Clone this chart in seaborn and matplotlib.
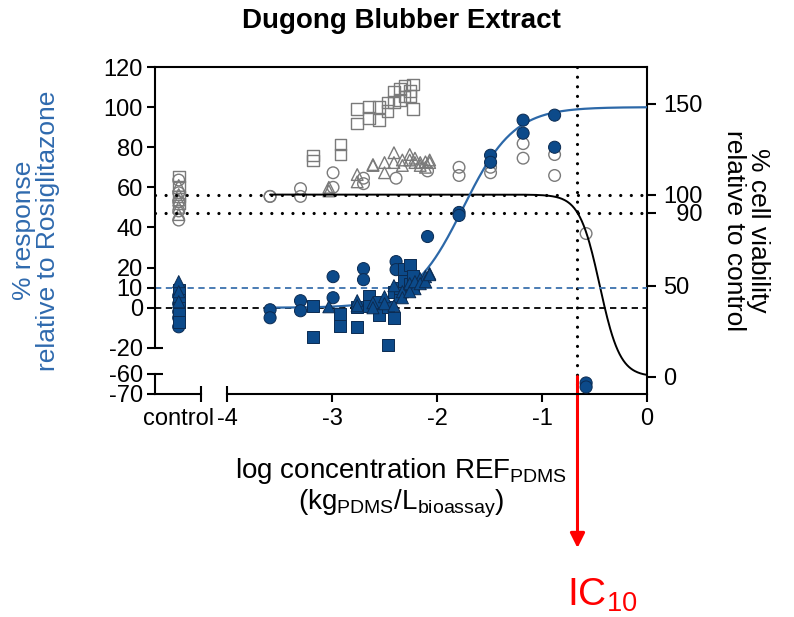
import numpy as np
import pandas as pd
import matplotlib
matplotlib.use("Agg")
import matplotlib.pyplot as plt
import seaborn as sns

# ---------------------------------------------------------------------------
# Data: log concentration REF_PDMS and measured responses per replicate
# ---------------------------------------------------------------------------
nan = np.nan

# replicate 1 (circles)
conc_rep1 = [-3.59, -3.30, -2.99, -2.70, -2.39, -2.09, -1.79, -1.49, -1.18, -0.88, -0.58]
resp_rep1_a = [-1, 3.5, 15.5, 19.5, 23, 35.5, 47.5, 76, 93.5, 96, -64.5]
resp_rep1_b = [-5, -1.5, 5, 14, 19, nan, 46, 72.5, 87, 80, -66.5]
viab_rep1_a = [99, 103.3, 112, 109, 109, 113, 115, 115, 128, 122, 78.6]
viab_rep1_b = [99, 99, 104, 106, nan, nan, 110.5, 112, 120, 110.5, nan]

# replicate 2 (squares)
conc_rep2 = [-3.18, -2.92, -2.76, -2.65, -2.55, -2.47, -2.41, -2.35, -2.31, -2.26, -2.23]
resp_rep2_a = [1, -3, 0.5, 6, -3.5, 0.5, 8, 6, 19.5, 21.5, 10.5]
resp_rep2_b = [-14.5, -9, -9.5, 1, 3, -18.5, -5, 10, 13.5, 12, 16]
viab_rep2_a = [121.4, 127.5, 147, 148, 148, 150.5, 156.6, 152, 160, 154, 160.4]
viab_rep2_b = [118.7, 122, 139, 142, 141, 146, 151, 158, 153.8, 157, 147]

# replicate 3 (triangles)
conc_rep3 = [-3.03, -2.76, -2.61, -2.50, -2.41, -2.33, -2.26, -2.21, -2.16, -2.11, -2.07]
resp_rep3_a = [0.5, 3.5, 2.5, 5.5, 11, 8, 12, 9.5, 14.5, 15.5, 17]
resp_rep3_b = [nan, 1, 0, 2, 1, 5, 8, 13, 12, 13, 16.5]
viab_rep3_a = [104, 111, 116.5, 117.6, 123, 119, 122, 117.6, 117.6, 118, 119]
viab_rep3_b = [102, 107, 116, 112, 117.6, 116, 119, 120, 116, 115, 117.6]

# solvent controls
ctrl_resp_rep1 = [6, 2, -2, -5, -9.5]
ctrl_resp_rep2 = [9, 4, 0, -3, -7]
ctrl_resp_rep3 = [13, 8, 3]
ctrl_viab_rep1 = [108, 101, 96, 91, 86]
ctrl_viab_rep2 = [110, 104, 99, 95]
ctrl_viab_rep3 = [105, 100, 97, 93, 89]

# Hill fits
RESP_BOTTOM, RESP_TOP, RESP_LOGEC50, RESP_HILL = 0.0, 100.0, -1.75, 1.8
VIAB_TOP, VIAB_BOTTOM, VIAB_LOGIC50, VIAB_HILL = 100.0, 0.0, -0.45, 4.5
CURVE_START, CURVE_END = -3.59, 0.0

# tick labels
left_ticks = [-70, 0, 10, 20, 40, 60, 80, 100, 120]
left_break_ticks = [-60, -20]
right_ticks = [0, 50, 90, 100, 150]
x_ticks = [-3, -2, -1, 0]

# ---------------------------------------------------------------------------
# Layout / style constants
# ---------------------------------------------------------------------------
CONTROL_X = -4.46          # where the control column sits on the x axis
X_MIN, CTRL_END, X_BREAK = -4.686, -4.248, -4.0
BLUE_FILL = "#0C4A8A"
BLUE_EDGE = "#0B2B52"
CURVE_BLUE = "#2C68A8"
DASH_BLUE = "#3C72AE"
LABEL_BLUE = "#2F6AAE"
OPEN_EDGE = "#7A7A7A"
SPINE_LW = 1.5
TICK_LEN = 5.8
TICK_FS = 17
MARKERS = {"1": "o", "2": "s", "3": "^"}


def long_frame(conc, a, b, rep):
    x = list(conc) + list(conc)
    v = list(a) + list(b)
    return pd.DataFrame({"x": x, "value": v, "rep": rep})


resp_df = pd.concat([
    long_frame(conc_rep1, resp_rep1_a, resp_rep1_b, "1"),
    long_frame(conc_rep2, resp_rep2_a, resp_rep2_b, "2"),
    long_frame(conc_rep3, resp_rep3_a, resp_rep3_b, "3"),
    pd.DataFrame({"x": CONTROL_X, "value": ctrl_resp_rep1, "rep": "1"}),
    pd.DataFrame({"x": CONTROL_X, "value": ctrl_resp_rep2, "rep": "2"}),
    pd.DataFrame({"x": CONTROL_X, "value": ctrl_resp_rep3, "rep": "3"}),
]).dropna()

viab_df = pd.concat([
    long_frame(conc_rep1, viab_rep1_a, viab_rep1_b, "1"),
    long_frame(conc_rep2, viab_rep2_a, viab_rep2_b, "2"),
    long_frame(conc_rep3, viab_rep3_a, viab_rep3_b, "3"),
    pd.DataFrame({"x": CONTROL_X, "value": ctrl_viab_rep1, "rep": "1"}),
    pd.DataFrame({"x": CONTROL_X, "value": ctrl_viab_rep2, "rep": "2"}),
    pd.DataFrame({"x": CONTROL_X, "value": ctrl_viab_rep3, "rep": "3"}),
]).dropna()

xs = np.linspace(CURVE_START, CURVE_END, 400)
resp_curve = pd.DataFrame({
    "x": xs,
    "y": RESP_BOTTOM + (RESP_TOP - RESP_BOTTOM) / (1 + 10 ** ((RESP_LOGEC50 - xs) * RESP_HILL)),
})
viab_curve = pd.DataFrame({
    "x": xs,
    "y": VIAB_BOTTOM + (VIAB_TOP - VIAB_BOTTOM) / (1 + 10 ** ((xs - VIAB_LOGIC50) * VIAB_HILL)),
})
# concentration giving 10 % loss of viability
log_ic10 = VIAB_LOGIC50 + np.log10(1 / 9) / VIAB_HILL


# broken left axis: -70..-60 squeezed below -20
def fwd(y):
    y = np.asarray(y, dtype=float)
    return np.where(y >= -20, y, np.where(y <= -60, y + 27, -20 + (y + 20) * 13 / 40))


def inv(t):
    t = np.asarray(t, dtype=float)
    return np.where(t >= -20, t, np.where(t <= -33, t - 27, -20 + (t + 20) * 40 / 13))


# ---------------------------------------------------------------------------
sns.set_style("ticks")
plt.rcParams["font.family"] = ["Liberation Sans", "DejaVu Sans"]
plt.rcParams["mathtext.fontset"] = "custom"
plt.rcParams["mathtext.rm"] = "Liberation Sans"
plt.rcParams["mathtext.it"] = "Liberation Sans:italic"
plt.rcParams["mathtext.bf"] = "Liberation Sans:bold"
for key in ("text.color", "axes.labelcolor", "xtick.color", "ytick.color", "axes.edgecolor"):
    plt.rcParams[key] = "black"

fig = plt.figure(figsize=(7.94, 6.17), dpi=100)
fig.patch.set_facecolor("white")
ax = fig.add_axes([155 / 794, 1 - 394 / 617, (647 - 155) / 794, (394 - 67) / 617])
ax2 = ax.twinx()
ax.set_zorder(ax2.get_zorder() + 1)
ax.patch.set_visible(False)

ax.set_yscale("function", functions=(fwd, inv))
ax.set_ylim(-70, 120)
ax.set_xlim(X_MIN, 0)
ax2.set_ylim(-9.56, 170.1)

# --- cell viability (right axis) ---
dot = (0, (0.01, 3.3))
ax2.axhline(100, color="k", lw=2.3, ls=dot, dash_capstyle="round", zorder=2)
ax2.axhline(90, color="k", lw=2.3, ls=dot, dash_capstyle="round", zorder=2)
ax2.axvline(log_ic10, color="k", lw=2.3, ls=(0, (0.01, 3.0)), dash_capstyle="round", zorder=2)
sns.scatterplot(data=viab_df, x="x", y="value", style="rep", markers=MARKERS,
                facecolor="none", edgecolor=OPEN_EDGE, linewidth=1.0, s=70,
                legend=False, ax=ax2, zorder=1)
sns.lineplot(data=viab_curve, x="x", y="y", color="k", lw=1.4, ax=ax2,
             estimator=None, sort=False, zorder=3)

# --- response (left axis) ---
ax.axhline(10, color=DASH_BLUE, lw=1.3, ls=(0, (3.5, 2.5)), zorder=1)
ax.axhline(0, color="k", lw=1.3, ls=(0, (3.5, 2.5)), zorder=1)
sns.scatterplot(data=resp_df, x="x", y="value", style="rep", markers=MARKERS,
                color=BLUE_FILL, edgecolor=BLUE_EDGE, linewidth=0.7, s=76,
                legend=False, ax=ax, zorder=4)
sns.lineplot(data=resp_curve, x="x", y="y", color=CURVE_BLUE, lw=1.6, ax=ax,
             estimator=None, sort=False, zorder=3)

# --- spines with breaks ---
for s in ("top", "right", "left", "bottom"):
    ax.spines[s].set_linewidth(SPINE_LW)
    ax.spines[s].set_color("k")
ax.spines["right"].set_visible(False)
ax.spines["left"].set_bounds(-20, 120)
ax.spines["bottom"].set_bounds(X_BREAK, 0)
ax.plot([0, 0], [-70, -60], transform=ax.get_yaxis_transform(), color="k",
        lw=SPINE_LW, clip_on=False, solid_capstyle="projecting")
ax.plot([X_MIN, CTRL_END], [0, 0], transform=ax.get_xaxis_transform(), color="k",
        lw=SPINE_LW, clip_on=False, solid_capstyle="projecting")
for s in ("top", "left", "bottom"):
    ax2.spines[s].set_visible(False)
ax2.spines["right"].set_linewidth(SPINE_LW)
ax2.spines["right"].set_color("k")

# --- ticks ---
ax.set_yticks(left_ticks, labels=[str(v) for v in left_ticks])
ax.set_yticks(left_break_ticks, labels=[str(v) for v in left_break_ticks], minor=True)
ax.set_xticks([CONTROL_X] + x_ticks, labels=["control"] + [str(v) for v in x_ticks])
ax.set_xticks([CTRL_END, X_BREAK], labels=["", str(int(X_BREAK))], minor=True)
ax.tick_params(which="major", direction="out", length=TICK_LEN, width=SPINE_LW,
               labelsize=TICK_FS, pad=3, color="k", labelcolor="k")
ax.tick_params(which="minor", direction="inout", length=2 * TICK_LEN, width=SPINE_LW,
               labelsize=TICK_FS, pad=3, color="k", labelcolor="k")
ax.tick_params(axis="x", which="both", pad=4)
ax.xaxis.get_major_ticks()[0].tick1line.set_visible(False)

# the 90 label is nudged right so it clears the 100 label
right_labels = [("  " + str(v)) if v == 90 else str(v) for v in right_ticks]
ax2.set_yticks(right_ticks, labels=right_labels)
ax2.tick_params(axis="y", direction="out", length=6.5, width=SPINE_LW,
                labelsize=TICK_FS, pad=5, color="k", labelcolor="k")

# --- labels ---
ax.set_ylabel("% response\nrelative to Rosiglitazone", fontsize=19, color=LABEL_BLUE,
              labelpad=31, linespacing=1.0)
ax2.set_ylabel("% cell viability\nrelative to control", fontsize=19, rotation=270,
               labelpad=14, linespacing=1.0, va="bottom")
ax.set_xlabel("log concentration REF$_{\\mathrm{PDMS}}$\n"
              "(kg$_{\\mathrm{PDMS}}$/L$_{\\mathrm{bioassay}}$)",
              fontsize=20, labelpad=19, linespacing=1.1)
ax.set_title("Dugong Blubber Extract", fontsize=20, fontweight="bold", pad=28)

# --- IC10 marker ---
ax2.annotate("", xy=(log_ic10, 617 - 548), xycoords=("data", "figure pixels"),
             xytext=(log_ic10, 0), textcoords="data",
             arrowprops=dict(arrowstyle="-|>", color="red", lw=2.2, mutation_scale=22,
                             shrinkA=0, shrinkB=0),
             annotation_clip=False)
fig.text(567 / 794, 1 - 606 / 617, "IC$_{\\mathrm{10}}$", color="red", fontsize=28,
         ha="left", va="baseline")

fig.savefig("out.png", dpi=100, facecolor="white")
